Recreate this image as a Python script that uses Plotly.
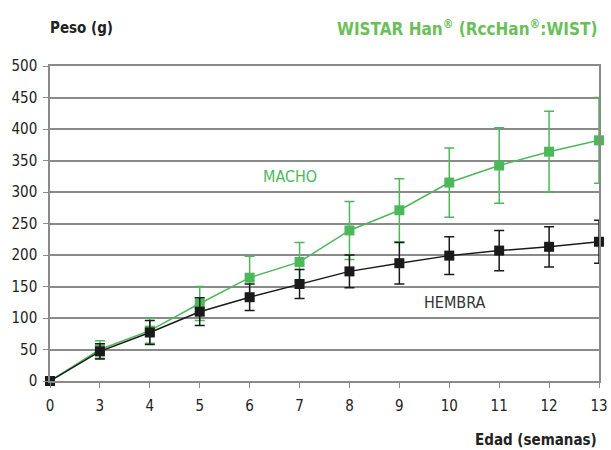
import plotly.graph_objects as go

# Edad (semanas) y peso medio (g) con desviacion
semanas = ["0", "3", "4", "5", "6", "7", "8", "9", "10", "11", "12", "13"]

macho_peso = [0, 50, 80, 123, 164, 189, 239, 271, 315, 342, 364, 382]
macho_sd = [0, 14, 20, 27, 34, 31, 46, 50, 55, 60, 64, 68]

hembra_peso = [0, 47, 77, 110, 133, 154, 174, 187, 199, 207, 213, 221]
hembra_sd = [0, 12, 19, 22, 21, 23, 26, 33, 30, 32, 32, 34]

green = "#4db85a"
black = "#1a1a1a"
font_family = "DejaVu Sans Condensed, Liberation Sans Narrow, sans-serif"

fig = go.Figure()

fig.add_trace(go.Scatter(
    x=semanas, y=macho_peso,
    mode="lines+markers",
    name="MACHO",
    line=dict(color=green, width=1.5),
    marker=dict(color=green, size=10, symbol="square"),
    error_y=dict(type="data", array=macho_sd, visible=True,
                 color=green, thickness=1.5, width=5),
    cliponaxis=False,
))

fig.add_trace(go.Scatter(
    x=semanas, y=hembra_peso,
    mode="lines+markers",
    name="HEMBRA",
    line=dict(color=black, width=1.5),
    marker=dict(color=black, size=10, symbol="square"),
    error_y=dict(type="data", array=hembra_sd, visible=True,
                 color=black, thickness=1.5, width=5),
    cliponaxis=False,
))

fig.update_layout(
    width=611, height=450,
    margin=dict(l=50, r=12, t=66, b=69),
    plot_bgcolor="white",
    paper_bgcolor="white",
    showlegend=False,
    font=dict(family=font_family, size=15, color="#222"),
    xaxis=dict(
        type="category",
        categoryorder="array", categoryarray=semanas,
        range=[0, len(semanas) - 1],
        automargin=False,
        showgrid=False,
        showline=True, linecolor="#8a8a8a", linewidth=1.5, mirror=True,
        ticks="outside", ticklen=5, tickcolor="#8a8a8a",
        ticklabelstandoff=5,
        tickfont=dict(size=15),
    ),
    yaxis=dict(
        range=[0, 500], dtick=50,
        automargin=False,
        showgrid=True, gridcolor="#8a8a8a", gridwidth=1.5,
        zeroline=False,
        showline=True, linecolor="#8a8a8a", linewidth=1.5, mirror=True,
        ticks="outside", ticklen=5, tickcolor="#8a8a8a",
        ticklabelstandoff=3,
        tickfont=dict(size=15),
    ),
)

fig.add_annotation(xref="paper", yref="paper", x=-0.003, y=1.12,
                   xanchor="left", yanchor="middle", showarrow=False,
                   text="<b>Peso (g)</b>", font=dict(size=15, color="#222"))
fig.add_annotation(xref="paper", yref="paper", x=1.0, y=1.12,
                   xanchor="right", yanchor="middle", showarrow=False,
                   text="<b>WISTAR Han<sup>®</sup> (RccHan<sup>®</sup>:WIST)</b>",
                   font=dict(size=17, color="#6abf5a"))
fig.add_annotation(xref="paper", yref="paper", x=1.0, y=-0.187,
                   xanchor="right", yanchor="middle", showarrow=False,
                   text="<b>Edad (semanas)</b>", font=dict(size=15, color="#222"))
# category axis: annotation x is the category index
fig.add_annotation(x=5, y=324, xshift=-10, showarrow=False,
                   text="MACHO", font=dict(size=16, color=green))
fig.add_annotation(x=8, y=124, xshift=6, showarrow=False,
                   text="HEMBRA", font=dict(size=16, color="#333"))

# drop the default body margin so the figure fills the window exactly
fig.write_html("out.html", config={"displayModeBar": False},
               post_script="document.body.style.margin='0';")
